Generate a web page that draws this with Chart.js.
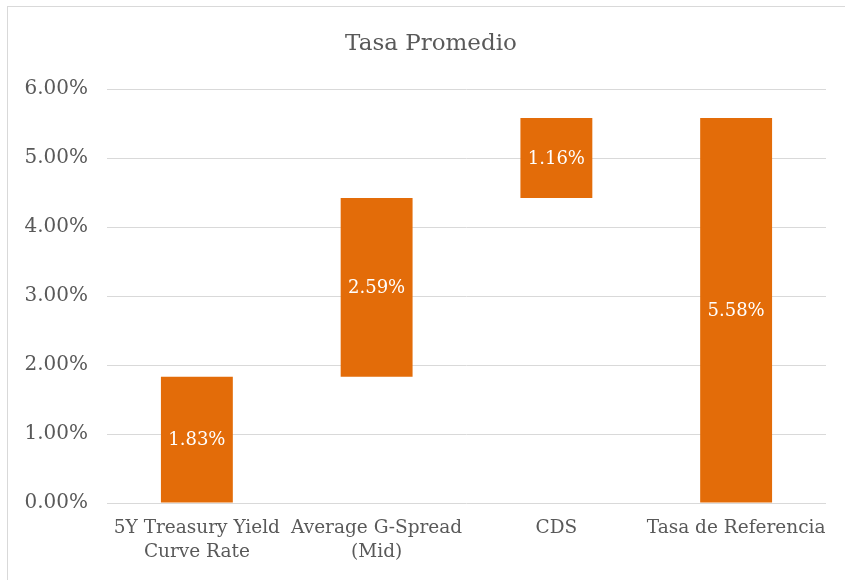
<!DOCTYPE html>
<html>
<head>
<meta charset="utf-8">
<script src="https://cdn.jsdelivr.net/npm/chart.js@4"></script>
<style>
  html, body { margin: 0; padding: 0; background: #fff; }
  #wrap { position: relative; width: 845px; height: 580px; overflow: hidden; }
  #frame { position: absolute; left: 7px; top: 6px; width: 860px; height: 600px; border: 1px solid #d9d9d9; box-sizing: border-box; pointer-events: none; }
  canvas { position: absolute; left: 0; top: 0; }
</style>
</head>
<body>
<div id="wrap">
  <canvas id="c" width="845" height="580"></canvas>
  <div id="frame"></div>
</div>
<script>
const categories = [["5Y Treasury Yield", "Curve Rate"], ["Average G-Spread", "(Mid)"], "CDS", "Tasa de Referencia"];
const increments = [1.83, 2.59, 1.16];
const total = 5.58;
const yTicks = [0, 1, 2, 3, 4, 5, 6];

const FONT = "'DejaVu Serif', serif";
const TEXT = "#595959";
const BAR = "#E36C09";

// floating bars for the waterfall
const floating = [];
let run = 0;
increments.forEach(v => { floating.push([run, +(run + v).toFixed(2)]); run += v; });
floating.push([0, total]);
const labelValues = increments.concat([total]);

const barLabels = {
  id: 'barLabels',
  afterDatasetsDraw(chart) {
    const ctx = chart.ctx;
    const meta = chart.getDatasetMeta(0);
    ctx.save();
    ctx.fillStyle = '#ffffff';
    ctx.font = "18px " + FONT;
    ctx.textAlign = 'center';
    ctx.textBaseline = 'middle';
    meta.data.forEach((bar, i) => {
      const p = bar.getProps(['x', 'y', 'base'], true);
      ctx.fillText(labelValues[i].toFixed(2) + '%', p.x, (p.y + p.base) / 2 + 1);
    });
    ctx.restore();
  }
};

new Chart(document.getElementById('c'), {
  type: 'bar',
  data: {
    labels: categories,
    datasets: [{
      data: floating,
      backgroundColor: BAR,
      borderWidth: 0,
      barPercentage: 0.4,
      categoryPercentage: 1.0
    }]
  },
  options: {
    responsive: false,
    animation: false,
    layout: { padding: { left: 17, right: 0, top: 0, bottom: 0 } },
    plugins: {
      legend: { display: false },
      tooltip: { enabled: false },
      title: {
        display: true,
        text: 'Tasa Promedio',
        color: TEXT,
        font: { family: FONT, size: 23, weight: 'normal', lineHeight: 1.2 },
        padding: { top: 30, bottom: 31.4 }
      }
    },
    scales: {
      x: {
        grid: { display: false, drawTicks: false },
        border: { display: false },
        ticks: {
          color: TEXT,
          font: { family: FONT, size: 18.5, lineHeight: 1.3 },
          padding: 13,
          maxRotation: 0,
          autoSkip: false
        },
        afterFit(scale) { scale.height = 77; }
      },
      y: {
        min: 0,
        max: 6,
        afterBuildTicks(scale) { scale.ticks = yTicks.map(v => ({ value: v })); },
        grid: { color: '#d9d9d9', lineWidth: 1, drawTicks: false },
        border: { display: false },
        ticks: {
          color: TEXT,
          font: { family: FONT, size: 20 },
          padding: 19,
          callback: v => v.toFixed(2) + '%'
        },
        afterFit(scale) { scale.width = 90; }
      },
      yRight: {
        position: 'right',
        min: 0,
        max: 6,
        grid: { display: false, drawTicks: false },
        border: { display: false },
        ticks: { display: false },
        afterFit(scale) { scale.width = 19; }
      }
    }
  },
  plugins: [barLabels]
});
</script>
</body>
</html>
